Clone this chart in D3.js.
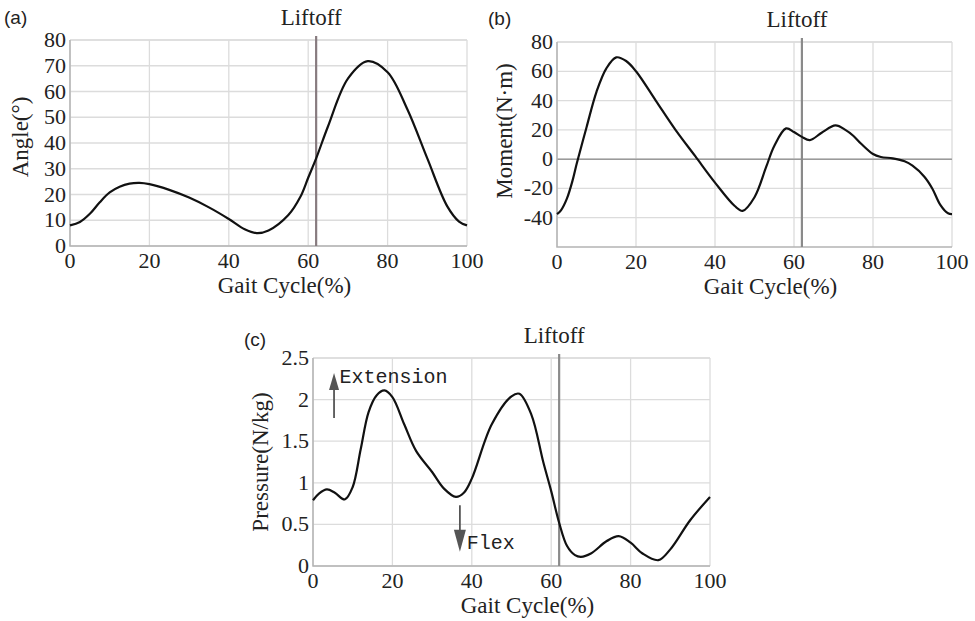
<!DOCTYPE html>
<html>
<head>
<meta charset="utf-8">
<script src="https://cdn.jsdelivr.net/npm/d3@7"></script>
<style>
  body { margin: 0; background: #fff; }
  svg { display: block; }
  .serif { font-family: "Liberation Serif", "Times New Roman", serif; fill: #222; }
</style>
</head>
<body>
<script>
// ---- data ----
var liftoff = 62;
var xTicks = [0, 20, 40, 60, 80, 100];

var angleX = [0, 2.5, 5, 7.5, 10, 12.5, 15, 17.5, 20, 25, 30, 35, 40, 44, 47, 50, 55, 58, 60, 62, 65, 70, 75, 80, 85, 90, 95, 98, 100];
var angleY = [8, 9.3, 12.5, 17, 20.8, 23, 24.2, 24.5, 24, 21.8, 18.8, 15, 10.5, 6.5, 5, 6, 12, 19, 26.5, 34, 46.5, 65, 71.8, 67.5, 53, 34, 15.5, 9.5, 8];
var angleTicks = [0, 10, 20, 30, 40, 50, 60, 70, 80];

var momentX = [0, 1, 2.5, 4, 5, 7.5, 10, 12.5, 15, 17.5, 20, 25, 30, 35, 40, 45, 47, 50, 53, 55, 58, 60, 62, 64, 67, 70.5, 73, 75, 77, 80, 82, 85, 88, 90, 93, 95, 97, 99, 100];
var momentY = [-37.5, -35, -27, -14, -3, 22, 46, 62, 69.5, 67, 60, 40, 20, 2, -16, -32, -35.3, -26, -5, 9, 21, 18.5, 15.2, 13, 18, 23, 20, 16, 10.5, 3.5, 1.5, 0.5, -1.5, -4.5, -12, -20, -31, -37, -37.5];
var momentTicks = [-40, -20, 0, 20, 40, 60, 80];

var pressureX = [0, 1.5, 3.5, 5.5, 8, 10, 12, 14, 16, 18, 20, 23, 26, 30, 33, 36, 38, 40, 45, 50, 52, 55, 58, 60, 62, 64, 66, 67.5, 70, 74, 77, 80, 83, 87, 90, 95, 100];
var pressureY = [0.79, 0.87, 0.92, 0.88, 0.8, 0.95, 1.4, 1.85, 2.05, 2.11, 2.03, 1.7, 1.38, 1.13, 0.93, 0.83, 0.88, 1.05, 1.7, 2.04, 2.07, 1.82, 1.25, 0.9, 0.52, 0.24, 0.13, 0.11, 0.15, 0.3, 0.36, 0.28, 0.15, 0.07, 0.2, 0.55, 0.83];
var pressureTicks = [0, 0.5, 1, 1.5, 2, 2.5];

var svg = d3.select("body").append("svg")
  .attr("width", 975)
  .attr("height", 621);

function drawPanel(p) {
  var x = d3.scaleLinear().domain([0, 100]).range([p.left, p.right]);
  var y = d3.scaleLinear().domain(p.domain).range([p.bottom, p.top]);
  var g = svg.append("g");

  // grid
  g.selectAll(".vgrid").data(xTicks).enter().append("line")
    .attr("x1", d => x(d)).attr("x2", d => x(d))
    .attr("y1", p.top).attr("y2", p.bottom)
    .style("stroke", "#dcdcdc").style("stroke-width", 1.3);
  g.selectAll(".hgrid").data(p.ticks.concat([p.domain[1]])).enter().append("line")
    .attr("x1", p.left).attr("x2", p.right)
    .attr("y1", d => y(d)).attr("y2", d => y(d))
    .style("stroke", "#dcdcdc").style("stroke-width", 1.3);

  if (p.zeroLine) {
    g.append("line")
      .attr("x1", p.left).attr("x2", p.right)
      .attr("y1", y(0)).attr("y2", y(0))
      .style("stroke", "#9a9a9a").style("stroke-width", 1.5);
  }

  // axis lines (left + bottom)
  g.append("path")
    .attr("d", "M" + p.left + "," + p.top + "V" + p.bottom + "H" + p.right)
    .style("fill", "none").style("stroke", "#b4b4b4").style("stroke-width", 1.5);

  // liftoff line
  g.append("line")
    .attr("x1", x(liftoff)).attr("x2", x(liftoff))
    .attr("y1", p.top - 4).attr("y2", p.bottom)
    .style("stroke", p.liftColor).style("stroke-width", 2.2);

  // curve
  var pts = p.xs.map((d, i) => [d, p.ys[i]]);
  g.append("path")
    .datum(pts)
    .attr("d", d3.line().x(d => x(d[0])).y(d => y(d[1])).curve(d3.curveCatmullRom.alpha(0.5)))
    .style("fill", "none").style("stroke", "#111").style("stroke-width", 2.2);

  // tick labels
  g.selectAll(".xt").data(xTicks).enter().append("text")
    .attr("class", "serif")
    .attr("x", d => x(d)).attr("y", p.bottom + 22)
    .attr("text-anchor", "middle")
    .style("font-size", "22px")
    .text(d => d);
  g.selectAll(".yt").data(p.ticks).enter().append("text")
    .attr("class", "serif")
    .attr("x", p.left - 4).attr("y", d => y(d) + 7)
    .attr("text-anchor", "end")
    .style("font-size", "22px")
    .text(d => d);

  // axis titles
  g.append("text").attr("class", "serif")
    .attr("x", (p.left + p.right) / 2 + 16).attr("y", p.bottom + 47)
    .attr("text-anchor", "middle").style("font-size", "23px")
    .text("Gait Cycle(%)");
  g.append("text").attr("class", "serif")
    .attr("transform", "translate(" + p.ylabX + "," + p.ylabY + ") rotate(-90)")
    .attr("text-anchor", "middle").style("font-size", "23px")
    .text(p.ylabel);

  g.append("text").attr("class", "serif")
    .attr("x", x(liftoff) - 5).attr("y", p.top - 15)
    .attr("text-anchor", "middle").style("font-size", "23px")
    .text("Liftoff");

  g.append("text")
    .attr("x", p.tagX).attr("y", p.tagY)
    .style("font-family", "'Liberation Sans', Arial, sans-serif")
    .style("font-size", "19px").style("fill", "#222")
    .text(p.tag);

  return {x: x, y: y, g: g};
}

drawPanel({
  left: 70, right: 467, top: 40, bottom: 246,
  domain: [0, 80], ticks: angleTicks, xs: angleX, ys: angleY,
  ylabel: "Angle(°)", ylabX: 28, ylabY: 137,
  liftColor: "#877b7f", tag: "(a)", tagX: 4, tagY: 24
});

drawPanel({
  left: 557, right: 952, top: 42, bottom: 247,
  domain: [-60, 80], ticks: momentTicks, xs: momentX, ys: momentY, zeroLine: true,
  ylabel: "Moment(N·m)", ylabX: 512, ylabY: 131,
  liftColor: "#8a8a8a", tag: "(b)", tagX: 488, tagY: 25
});

var pc = drawPanel({
  left: 313, right: 710, top: 358, bottom: 566,
  domain: [0, 2.5], ticks: pressureTicks, xs: pressureX, ys: pressureY,
  ylabel: "Pressure(N/kg)", ylabX: 268, ylabY: 462,
  liftColor: "#8a8a8a", tag: "(c)", tagX: 244, tagY: 346
});

// Extension / Flex annotations
function arrow(g, x0, y0, x1, y1, head, hw) {
  var dir = y1 < y0 ? -1 : 1;
  g.append("line")
    .attr("x1", x0).attr("x2", x1)
    .attr("y1", y0).attr("y2", y1 - dir * head * 0.5)
    .style("stroke", "#555").style("stroke-width", 1.8);
  g.append("path")
    .attr("d", "M" + x1 + "," + y1 + "L" + (x1 - hw) + "," + (y1 - dir * head) + "L" + (x1 + hw) + "," + (y1 - dir * head) + "Z")
    .style("fill", "#555");
}

arrow(pc.g, pc.x(5.3), pc.y(1.78), pc.x(5.3), pc.y(2.32), 17, 5);
pc.g.append("text")
  .attr("x", pc.x(6.7)).attr("y", pc.y(2.2))
  .style("font-family", "'Liberation Mono', 'DejaVu Sans Mono', monospace")
  .style("font-size", "20px").style("fill", "#222")
  .text("Extension");

arrow(pc.g, pc.x(37), pc.y(0.73), pc.x(37), pc.y(0.17), 22, 6);
pc.g.append("text")
  .attr("x", pc.x(38.7)).attr("y", pc.y(0.2))
  .style("font-family", "'Liberation Mono', 'DejaVu Sans Mono', monospace")
  .style("font-size", "20px").style("fill", "#222")
  .text("Flex");
</script>
</body>
</html>
